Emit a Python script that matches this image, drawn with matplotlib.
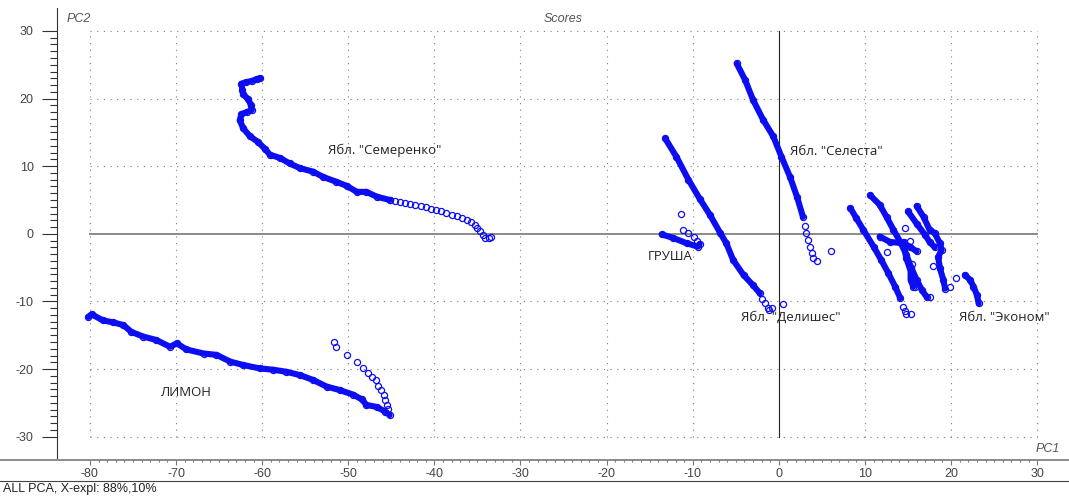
import numpy as np
import matplotlib
matplotlib.use("Agg")
import matplotlib.pyplot as plt
from matplotlib.lines import Line2D

# ---- score data (PC1, PC2) ----
semerenko_x = [-60.2, -60.6, -61.2, -61.9, -62.4, -62.3, -62.2, -61.6, -61.3, -61.2, -61.8, -62.4,
               -62.6, -62.2, -61.4, -60.5, -59.7, -59.1, -57.9, -56.8, -55.6, -54.1, -52.9, -51.4,
               -50.2, -49.0, -47.9, -46.7, -45.2]
semerenko_y = [23.0, 22.9, 22.6, 22.4, 22.2, 21.3, 20.6, 19.9, 19.0, 18.3, 18.0, 17.7,
               16.8, 15.6, 14.4, 13.6, 12.6, 11.7, 11.2, 10.4, 9.7, 9.2, 8.4, 7.7,
               7.1, 6.2, 6.2, 5.5, 5.0]
semerenko_tail_x = [-45.2, -44.6, -44.0, -43.4, -42.8, -42.2, -41.6, -41.0, -40.4, -39.8, -39.2, -38.6,
                    -38.0, -37.4, -36.8, -36.2, -35.7, -35.3, -35.0, -34.7, -34.4, -34.1, -33.7, -33.4]
semerenko_tail_y = [5.0, 4.85, 4.7, 4.6, 4.45, 4.25, 4.05, 3.95, 3.7, 3.55, 3.3, 3.05,
                    2.85, 2.6, 2.35, 2.05, 1.7, 1.3, 0.85, 0.35, -0.2, -0.6, -0.55, -0.4]

limon_x = [-80.2, -79.8, -78.5, -77.3, -76.1, -75.2, -73.8, -72.3, -70.7, -69.9, -68.8, -66.8,
           -65.3, -63.7, -62.2, -60.3, -58.7, -57.2, -55.6, -54.1, -52.5, -51.0, -49.4, -48.4,
           -47.9, -46.7, -45.7, -45.2]
limon_y = [-12.3, -11.9, -12.8, -13.1, -13.5, -14.5, -15.2, -15.7, -16.7, -16.2, -17.1, -17.7,
           -17.9, -18.9, -19.4, -19.9, -20.1, -20.4, -20.9, -21.6, -22.6, -23.1, -23.8, -24.5,
           -25.3, -25.6, -26.3, -26.8]
limon_arc_x = [-51.6, -51.4, -50.2, -49.0, -48.3, -47.7, -47.2, -46.8, -46.5, -46.2, -45.9, -45.7,
               -45.5, -45.35]
limon_arc_y = [-16.0, -16.8, -17.9, -18.9, -19.9, -20.6, -21.2, -21.6, -22.5, -23.1, -23.8, -24.6,
               -25.3, -25.9]

grusha_x = [-13.6, -12.3, -10.7, -9.4, -9.2]
grusha_y = [-0.1, -0.6, -1.4, -1.9, -1.5]
grusha_hook_x = [-9.5, -9.9, -10.5, -11.1, -11.4]
grusha_hook_y = [-1.0, -0.5, 0.1, 0.5, 2.9]

delishes_x = [-13.2, -11.9, -10.5, -9.2, -8.0, -6.8, -6.1, -5.3, -4.1, -3.0, -2.2]
delishes_y = [14.1, 11.4, 8.0, 5.2, 2.8, 0.1, -1.4, -3.9, -6.1, -7.6, -8.8]
delishes_end_x = [-1.9, -1.6, -1.3, -1.2, -0.8, 0.5]
delishes_end_y = [-9.6, -10.3, -11.0, -11.3, -10.9, -10.4]

celesta_x = [-4.9, -3.9, -3.0, -1.8, -0.65, 0.3, 1.3, 2.1, 2.8]
celesta_y = [25.2, 22.7, 19.8, 16.8, 14.4, 11.4, 8.4, 5.5, 2.5]
celesta_end_x = [3.0, 3.2, 3.4, 3.6, 3.8, 4.0, 4.4, 6.05]
celesta_end_y = [1.2, 0.1, -0.9, -1.9, -2.8, -3.6, -4.0, -2.5]

econom_a_x = [8.3, 9.0, 9.8, 11.0, 11.9, 12.7, 13.5, 14.1]
econom_a_y = [3.8, 2.3, 0.6, -1.9, -3.9, -5.8, -7.8, -9.5]
econom_b_x = [10.6, 11.7, 12.5, 13.3, 14.1, 14.8, 15.4, 16.0, 16.6, 17.2]
econom_b_y = [5.7, 4.3, 2.5, 0.6, -1.2, -3.1, -5.1, -6.8, -8.3, -9.4]
econom_c_x = [11.7, 12.9, 14.45, 15.2, 16.0]
econom_c_y = [-0.4, -1.2, -1.4, -1.9, -2.6]
econom_c2_x = [14.5, 14.8, 15.3, 15.3, 15.6]
econom_c2_y = [-1.2, -3.6, -5.5, -6.8, -7.8]
econom_d_x = [15.0, 16.0, 17.0, 17.5, 18.1]
econom_d_y = [3.3, 1.5, -0.2, -1.2, -2.0]
econom_e_x = [16.0, 16.8, 17.5, 18.1, 18.7, 18.9, 18.5, 18.7, 19.1, 19.3]
econom_e_y = [4.1, 2.5, 0.6, 0.1, -1.4, -2.4, -3.4, -5.1, -6.8, -8.1]
econom_f_x = [21.6, 22.2, 22.6, 23.0, 23.2]
econom_f_y = [-6.1, -6.8, -7.8, -9.05, -10.3]
econom_pts_x = [14.45, 14.6, 14.8, 15.4, 17.55, 19.9, 14.6, 15.2, 12.5, 15.5, 17.9, 20.6, 15.8]
econom_pts_y = [-10.8, -11.4, -11.9, -11.9, -9.3, -7.8, 0.8, -1.1, -2.7, -4.5, -4.7, -6.6, -7.8]

labels = [
    ('Ябл. "Семеренко"', -52.4, 12.4),
    ('Ябл. "Селеста"', 1.3, 12.1),
    ('ГРУША', -15.2, -3.4),
    ('Ябл. "Делишес"', -4.4, -12.4),
    ('Ябл. "Эконом"', 20.9, -12.4),
    ('ЛИМОН', -71.8, -23.4),
]

x_major = np.arange(-80, 31, 10)
y_major = np.arange(-30, 31, 10)
x_minor = np.arange(-80, 31, 1)
y_minor = np.arange(-30, 31, 1)

BLUE = "#0d0df2"
W, H = 1069, 499

fig = plt.figure(figsize=(W / 100, H / 100), dpi=100)
ax = fig.add_axes([57 / W, 40 / H, (W - 57) / W, (459 - 8) / H])
ax.set_xlim(-83.82, 33.69)
ax.set_ylim(-33.30, 33.39)

# dotted grid, bounded to the tick range
for gx in x_major:
    if gx != 0:
        ax.plot([gx, gx], [y_major[0], y_major[-1]], color="#7a7a7a", lw=0.8,
                linestyle=(0, (1, 5)), zorder=1)
for gy in y_major:
    if gy != 0:
        ax.plot([x_major[0], x_major[-1]], [gy, gy], color="#7a7a7a", lw=0.8,
                linestyle=(0, (1, 5)), zorder=1)
# origin lines
ax.plot([x_major[0], x_major[-1]], [0, 0], color="#8a8a8a", lw=1.4, zorder=1.5)
ax.plot([0, 0], [y_major[0], y_major[-1]], color="#222222", lw=0.8, zorder=1.5)

marker_kw = dict(marker="o", ms=4.4, mfc="none", mec=BLUE, mew=0.9)


def dense(xs, ys, width=4.4):
    ax.plot(xs, ys, color=BLUE, lw=width, solid_capstyle="round",
            solid_joinstyle="round", zorder=3)
    ax.plot(xs, ys, linestyle="none", zorder=3.5, **marker_kw)


def sparse(xs, ys):
    ax.plot(xs, ys, linestyle="none", zorder=3.5, **marker_kw)


dense(semerenko_x, semerenko_y)
sparse(semerenko_tail_x, semerenko_tail_y)
dense(limon_x, limon_y)
sparse(limon_arc_x, limon_arc_y)
dense(grusha_x, grusha_y)
sparse(grusha_hook_x, grusha_hook_y)
dense(delishes_x, delishes_y)
sparse(delishes_end_x, delishes_end_y)
dense(celesta_x, celesta_y)
sparse(celesta_end_x, celesta_end_y)
for xs, ys in [(econom_a_x, econom_a_y), (econom_b_x, econom_b_y), (econom_c_x, econom_c_y),
               (econom_c2_x, econom_c2_y), (econom_d_x, econom_d_y), (econom_e_x, econom_e_y),
               (econom_f_x, econom_f_y)]:
    dense(xs, ys)
sparse(econom_pts_x, econom_pts_y)

for text, lx, ly in labels:
    ax.text(lx, ly, text, fontsize=9.5, family="Open Sans", color="#222222",
            ha="left", va="center", zorder=5)

# axes frame and ticks
for side in ("top", "right", "bottom"):
    ax.spines[side].set_visible(False)
ax.spines["left"].set_color("#333333")
ax.spines["left"].set_linewidth(0.8)
ax.spines["left"].set_bounds(-33.30, 33.39)

ax.set_xticks(x_major)
ax.set_xticks(x_minor, minor=True)
ax.set_yticks(y_major)
ax.set_yticks(y_minor, minor=True)
ax.set_xticklabels([str(v) for v in x_major])
ax.set_yticklabels([str(v) for v in y_major])
ax.tick_params(axis="y", which="major", direction="out", length=10.8, width=0.8,
               color="#333333", labelsize=9, labelcolor="#444444", pad=6)
ax.tick_params(axis="y", which="minor", direction="out", length=5, width=0.8, color="#333333")
ax.tick_params(axis="x", which="major", direction="out", length=4.3, width=0.8,
               color="#777777", labelsize=9, labelcolor="#444444", pad=2)
ax.tick_params(axis="x", which="minor", direction="out", length=2, width=0.8, color="#777777")
for lbl in ax.get_xticklabels() + ax.get_yticklabels():
    lbl.set_family("Liberation Sans")

# bottom axis line across the full width and status separator
fig.add_artist(Line2D([0, 1], [1 - 459.5 / H, 1 - 459.5 / H], transform=fig.transFigure,
                      color="#8a8a8a", lw=1.4))
fig.add_artist(Line2D([0, 1], [1 - 480.5 / H, 1 - 480.5 / H], transform=fig.transFigure,
                      color="#444444", lw=0.8))

italic_kw = dict(fontsize=9, family="Liberation Sans", style="italic", color="#555555")
fig.text(67 / W, 1 - 19 / H, "PC2", ha="left", va="center", **italic_kw)
fig.text(563 / W, 1 - 19 / H, "Scores", ha="center", va="center", **italic_kw)
fig.text(1060 / W, 1 - 449 / H, "PC1", ha="right", va="center", **italic_kw)
fig.text(3 / W, 1 - 489 / H, "ALL PCA, X-expl: 88%,10%", ha="left", va="center",
         fontsize=9, family="Liberation Sans", color="#222222")

fig.savefig("out.png", dpi=100)
